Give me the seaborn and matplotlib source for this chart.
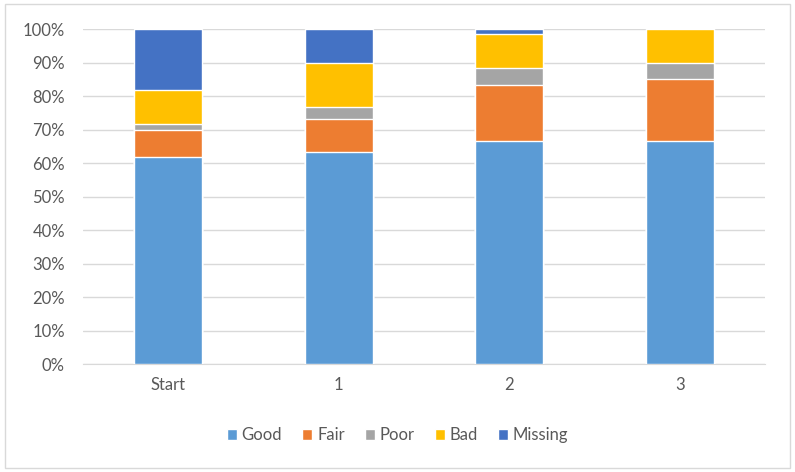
import numpy as np
import pandas as pd
import matplotlib
matplotlib.use("Agg")
import matplotlib.pyplot as plt
from matplotlib.patches import Patch, Rectangle
from matplotlib.ticker import PercentFormatter
import seaborn as sns

# --- DATA (share of items per rating, %) ---
stages = ["Start", "1", "2", "3"]
good = [61.7, 63.3, 66.7, 66.7]
fair = [8.3, 10.0, 16.7, 18.3]
poor = [1.7, 3.3, 5.0, 5.0]
bad = [10.0, 13.3, 10.0, 10.0]
missing = [18.3, 10.0, 1.7, 0.0]

categories = ["Good", "Fair", "Poor", "Bad", "Missing"]
colors = ["#5B9BD5", "#ED7D31", "#A5A5A5", "#FFC000", "#4472C4"]

sns.set_style("white")
plt.rcParams["font.family"] = ["Lato", "DejaVu Sans"]
TEXT = "#595959"

df = pd.DataFrame({"stage": stages, "Good": good, "Fair": fair,
                   "Poor": poor, "Bad": bad, "Missing": missing})
cum = df[categories].cumsum(axis=1)

fig = plt.figure(figsize=(7.95, 4.72), dpi=100)
ax = fig.add_axes([83 / 795, 107.7 / 472, 682 / 795, 335.3 / 472])

# stacked bars: draw tallest cumulative first, then overlay the lower ones
for cat, col in reversed(list(zip(categories, colors))):
    sns.barplot(x=df["stage"], y=cum[cat], color=col, width=0.4,
                saturation=1, ax=ax, zorder=3)

ax.set_ylim(0, 100)
ax.set_yticks(np.arange(0, 101, 10))
ax.yaxis.set_major_formatter(PercentFormatter(decimals=0))
ax.set_xlabel("")
ax.set_ylabel("")
ax.grid(axis="y", color="#D9D9D9", linewidth=1, zorder=0)
for s in ["top", "right", "left"]:
    ax.spines[s].set_visible(False)
ax.spines["bottom"].set_color("#D9D9D9")
ax.tick_params(axis="both", length=0, labelsize=12, colors=TEXT)
ax.tick_params(axis="y", pad=13)
ax.tick_params(axis="x", pad=9)

handles = [Patch(facecolor=c, label=l) for l, c in zip(categories, colors)]
fig.legend(handles=handles, loc="center", bbox_to_anchor=(0.5, 0.078),
           ncol=5, frameon=False, fontsize=12, labelcolor=TEXT,
           handlelength=0.6, handleheight=0.6, handletextpad=0.3,
           columnspacing=1.2)

fig.patches.append(Rectangle((5 / 795, 4 / 472), 785 / 795, 464 / 472,
                             transform=fig.transFigure, fill=False,
                             edgecolor="#D9D9D9", linewidth=1))

fig.savefig("out.png", dpi=100)
